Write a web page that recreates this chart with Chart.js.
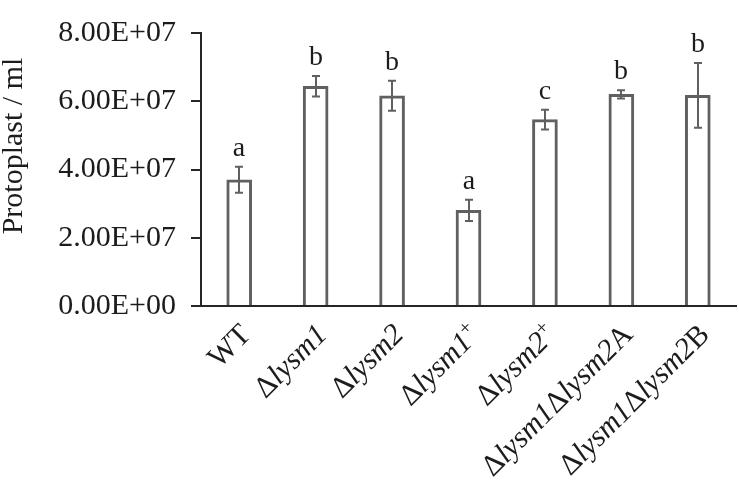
<!DOCTYPE html>
<html>
<head>
<meta charset="utf-8">
<script src="https://cdn.jsdelivr.net/npm/chart.js@4.4.1/dist/chart.umd.min.js"></script>
<style>
  html, body { margin: 0; padding: 0; background: #fff; }
  #wrap { width: 739px; height: 486px; }
</style>
</head>
<body>
<div id="wrap"><canvas id="chart" width="739" height="486"></canvas></div>
<script>
const categories = ['WT', 'Δlysm1', 'Δlysm2', 'Δlysm1+', 'Δlysm2+', 'Δlysm1Δlysm2A', 'Δlysm1Δlysm2B'];
const protoplasts = [3.70e7, 6.44e7, 6.16e7, 2.80e7, 5.46e7, 6.20e7, 6.17e7];
const errors = [0.38e7, 0.30e7, 0.44e7, 0.31e7, 0.29e7, 0.12e7, 0.95e7];
const letters = ['a', 'b', 'b', 'a', 'c', 'b', 'b'];
const yTicks = [0, 2e7, 4e7, 6e7, 8e7];
const yTickLabels = ['0.00E+00', '2.00E+07', '4.00E+07', '6.00E+07', '8.00E+07'];
const yTitle = 'Protoplast / ml';

const SERIF = '"Liberation Serif", "Times New Roman", serif';
const TEXT = '#1c1c1c';
const BAR = '#606060';

// split "Δlysm1+" into roman / italic / superscript pieces
function labelParts(name) {
  return name.split(/(lysm\d|\+)/).filter(s => s).map(s => ({
    text: s,
    italic: /^lysm\d$/.test(s),
    sup: s === '+'
  }));
}

const annotate = {
  id: 'annotate',
  afterDatasetsDraw(chart) {
    const { ctx, scales: { x, y } } = chart;
    ctx.save();
    ctx.strokeStyle = BAR;
    ctx.lineWidth = 2;
    protoplasts.forEach((v, i) => {
      const px = Math.round(x.getPixelForValue(i));
      const top = y.getPixelForValue(v + errors[i]);
      const bot = y.getPixelForValue(v - errors[i]);
      ctx.beginPath();
      ctx.moveTo(px, top); ctx.lineTo(px, bot);
      ctx.moveTo(px - 4, top); ctx.lineTo(px + 4, top);
      ctx.moveTo(px - 4, bot); ctx.lineTo(px + 4, bot);
      ctx.stroke();
      ctx.fillStyle = TEXT;
      ctx.font = '28px ' + SERIF;
      ctx.textAlign = 'center';
      ctx.textBaseline = 'alphabetic';
      ctx.fillText(letters[i], px, top - 11);
    });
    ctx.restore();
  },
  afterDraw(chart) {
    const { ctx, chartArea, scales: { x } } = chart;
    ctx.save();
    ctx.fillStyle = TEXT;
    ctx.textBaseline = 'alphabetic';
    ctx.textAlign = 'left';
    categories.forEach((name, i) => {
      const parts = labelParts(name);
      const fontOf = p => (p.italic ? 'italic ' : '') + (p.sup ? '20px ' : '30px ') + SERIF;
      let total = 0;
      parts.forEach(p => { ctx.font = fontOf(p); p.w = ctx.measureText(p.text).width; total += p.w; });
      ctx.save();
      ctx.translate(x.getPixelForValue(i) + 13, chartArea.bottom + 30);
      ctx.rotate(-Math.PI / 4);
      let cx = -total;
      parts.forEach(p => {
        ctx.font = fontOf(p);
        ctx.fillText(p.text, cx, p.sup ? -11 : 0);
        cx += p.w;
      });
      ctx.restore();
    });
    // y axis title
    ctx.save();
    ctx.translate(14, 146);
    ctx.rotate(-Math.PI / 2);
    ctx.textAlign = 'center';
    ctx.textBaseline = 'middle';
    ctx.font = '30px ' + SERIF;
    ctx.fillText(yTitle, 0, 0);
    ctx.restore();
    ctx.restore();
  }
};

new Chart(document.getElementById('chart').getContext('2d'), {
  type: 'bar',
  data: {
    labels: categories,
    datasets: [{
      data: protoplasts,
      backgroundColor: '#ffffff',
      borderColor: BAR,
      borderWidth: 3,
      borderSkipped: 'start',
      barThickness: 25
    }]
  },
  options: {
    responsive: false,
    animation: false,
    layout: { padding: { top: 14, right: 3, left: 0, bottom: 0 } },
    plugins: { legend: { display: false }, tooltip: { enabled: false } },
    scales: {
      x: {
        grid: { display: false },
        border: { display: true, color: '#262626', width: 2 },
        ticks: { display: false },
        afterFit(scale) { scale.height = 180; }
      },
      y: {
        min: 0,
        max: 8e7,
        afterBuildTicks(scale) { scale.ticks = yTicks.map(v => ({ value: v })); },
        ticks: {
          padding: 15,
          color: TEXT,
          font: { family: SERIF, size: 30 },
          callback: (v) => yTickLabels[yTicks.indexOf(v)]
        },
        grid: { drawOnChartArea: false, tickLength: 10, color: '#262626', lineWidth: 2 },
        border: { display: true, color: '#262626', width: 2 },
        afterFit(scale) { scale.width = 201; }
      }
    }
  },
  plugins: [annotate]
});
</script>
</body>
</html>
